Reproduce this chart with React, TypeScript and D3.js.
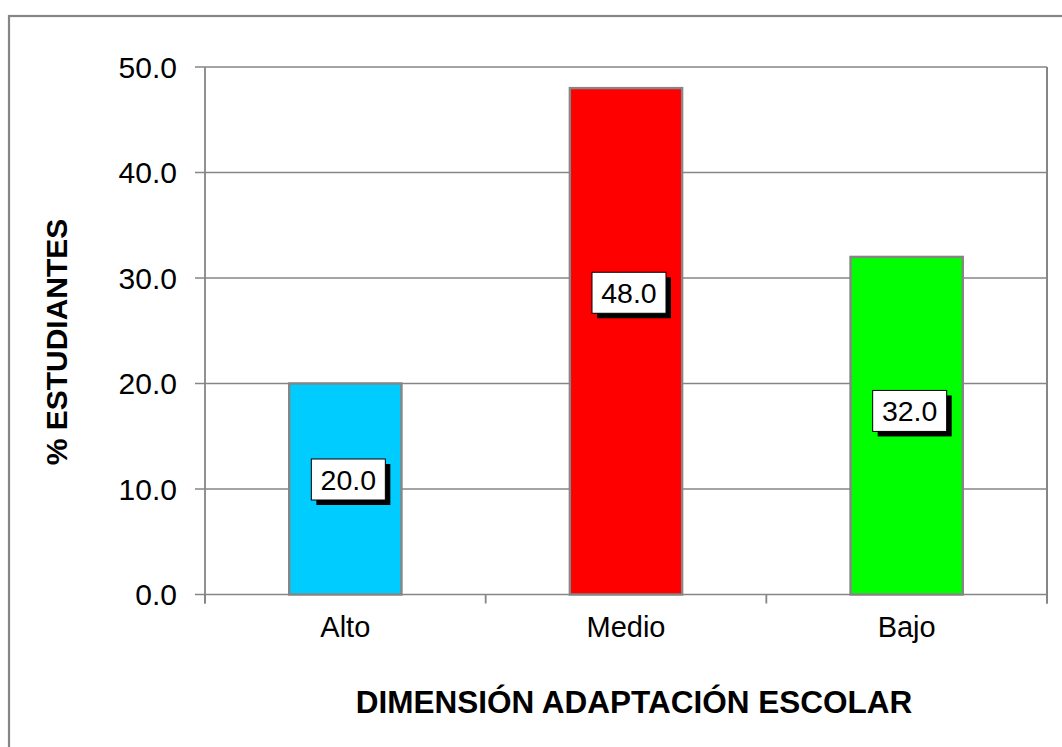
import React from "react";
import * as d3 from "d3";

const categories = ["Alto", "Medio", "Bajo"];
const values = [20.0, 48.0, 32.0];
const barColors = ["#00CCFF", "#FF0000", "#00FF00"];
const yTicks = [0, 10, 20, 30, 40, 50];
// where each data label box sits, in value units (manually placed in the original)
const labelAnchors = [10.9, 28.6, 17.4];

const W = 1062;
const H = 747;
const plot = { left: 205, right: 1047, top: 67, bottom: 594.5 };
const FONT = "'Liberation Sans', Arial, sans-serif";
const GRAY = "#868686";

export default function App() {
  const x = d3
    .scaleBand<string>()
    .domain(categories)
    .range([plot.left, plot.right])
    .paddingInner(0.6)
    .paddingOuter(0.3);
  const y = d3.scaleLinear().domain([0, 50]).range([plot.bottom, plot.top]);
  const step = (plot.right - plot.left) / categories.length;
  const boundaries = d3.range(categories.length + 1).map((i) => plot.left + i * step);

  const boxW = 74;
  const boxH = 41;

  return (
    <svg
      width={W}
      height={H}
      style={{ position: "absolute", left: 0, top: 0, background: "#fff" }}
      fontFamily={FONT}
    >
      <rect x={0} y={0} width={W} height={H} fill="#fff" />
      {/* outer chart frame */}
      <rect x={9} y={16} width={W + 20} height={H + 20} fill="none" stroke={GRAY} strokeWidth={2.2} />

      {/* gridlines */}
      {yTicks.map((t) => (
        <line
          key={"g" + t}
          x1={plot.left - 10}
          x2={plot.right}
          y1={y(t)}
          y2={y(t)}
          stroke={GRAY}
          strokeWidth={1.6}
        />
      ))}
      {/* right plot border */}
      <line x1={plot.right} x2={plot.right} y1={plot.top} y2={plot.bottom + 9} stroke={GRAY} strokeWidth={2} />
      {/* y axis */}
      <line x1={plot.left} x2={plot.left} y1={plot.top} y2={plot.bottom + 9} stroke={GRAY} strokeWidth={1.8} />
      {/* x ticks */}
      {boundaries.map((b, i) => (
        <line key={"xt" + i} x1={b} x2={b} y1={plot.bottom} y2={plot.bottom + 9} stroke={GRAY} strokeWidth={1.8} />
      ))}

      {/* bars */}
      {categories.map((c, i) => (
        <rect
          key={c}
          x={x(c)!}
          y={y(values[i])}
          width={x.bandwidth()}
          height={y(0) - y(values[i])}
          fill={barColors[i]}
          stroke={GRAY}
          strokeWidth={2.4}
        />
      ))}

      {/* y tick labels */}
      {yTicks.map((t) => (
        <text
          key={"yl" + t}
          x={177}
          y={y(t) + 10.5}
          textAnchor="end"
          fontSize={30}
          fill="#000"
        >
          {t.toFixed(1)}
        </text>
      ))}

      {/* x tick labels */}
      {categories.map((c) => (
        <text
          key={"xl" + c}
          x={x(c)! + x.bandwidth() / 2}
          y={637}
          textAnchor="middle"
          fontSize={29}
          fill="#000"
        >
          {c}
        </text>
      ))}

      {/* data labels */}
      {categories.map((c, i) => {
        const cx = x(c)! + x.bandwidth() / 2 + 3;
        const cy = y(labelAnchors[i]);
        return (
          <g key={"dl" + c}>
            <rect x={cx - boxW / 2 + 5} y={cy - boxH / 2 + 5} width={boxW} height={boxH} fill="#000" />
            <rect x={cx - boxW / 2} y={cy - boxH / 2} width={boxW} height={boxH} fill="#fff" stroke="#000" strokeWidth={1} />
            <text x={cx} y={cy + 10.5} textAnchor="middle" fontSize={28.5} fill="#000">
              {values[i].toFixed(1)}
            </text>
          </g>
        );
      })}

      {/* axis titles */}
      <text
        x={634}
        y={713}
        textAnchor="middle"
        fontSize={31.5}
        fontWeight="bold"
        fill="#000"
      >
        DIMENSIÓN ADAPTACIÓN ESCOLAR
      </text>
      <text
        transform={`translate(67, ${342}) rotate(-90)`}
        textAnchor="middle"
        fontSize={30}
        fontWeight="bold"
        fill="#000"
      >
        % ESTUDIANTES
      </text>
    </svg>
  );
}
